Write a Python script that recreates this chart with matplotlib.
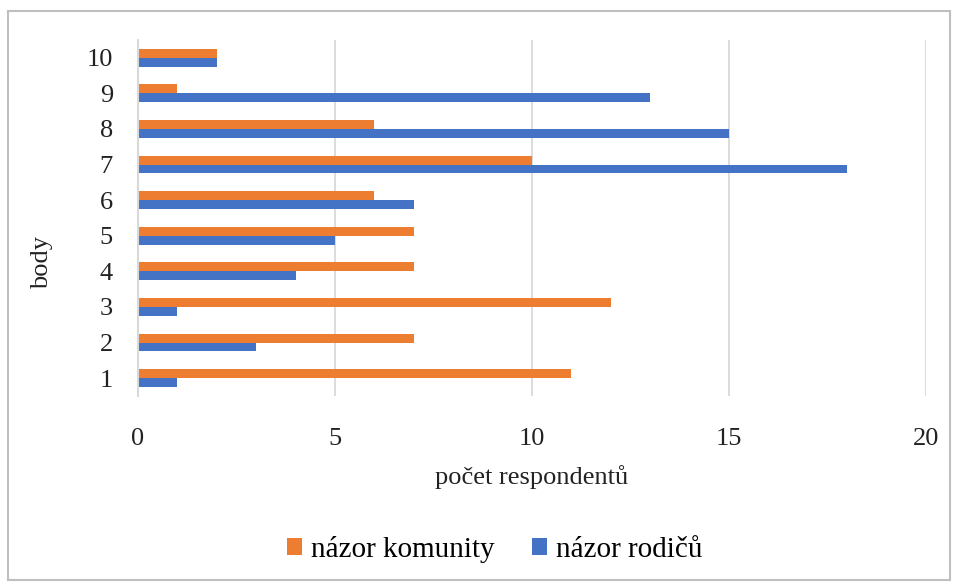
import matplotlib
matplotlib.use("Agg")
import matplotlib.pyplot as plt
import numpy as np
from matplotlib.patches import Rectangle

categories = ["1", "2", "3", "4", "5", "6", "7", "8", "9", "10"]
komunita = [11, 7, 12, 7, 7, 6, 10, 6, 1, 2]
rodice = [1, 3, 1, 4, 5, 7, 18, 15, 13, 2]
xticks = [0, 5, 10, 15, 20]

plt.rcParams['font.family'] = ['Liberation Serif', 'DejaVu Serif']

fig = plt.figure(figsize=(9.57, 5.83), dpi=100)
ax = fig.add_axes([0.1442, 0.3208, 0.8234, 0.6106])

y = np.arange(1, len(categories) + 1)
h = 0.25
orange = "#ED7D31"
blue = "#4472C4"
ax.barh(y + h / 2, komunita, height=h, color=orange, label="názor komunity", zorder=3)
ax.barh(y - h / 2, rodice, height=h, color=blue, label="názor rodičů", zorder=3)

ax.set_xlim(0, 20)
ax.set_ylim(0.5, 10.5)
ax.set_xticks(xticks)
ax.set_yticks(y)
ax.set_yticklabels(categories)
ax.tick_params(axis='both', length=0, labelsize=19, colors="#222222")
ax.tick_params(axis='x', pad=23)
ax.tick_params(axis='y', pad=18)
ax.grid(axis='x', color="#D9D9D9", linewidth=1.3, zorder=0)
for s in ["top", "right", "bottom"]:
    ax.spines[s].set_visible(False)
ax.spines["left"].set_color("#D9D9D9")
ax.spines["left"].set_linewidth(1.5)
ax.spines["left"].set_zorder(4)

ax.set_xlabel("počet respondentů", fontsize=19, color="#222222", labelpad=11)
ax.set_ylabel("body", fontsize=19, color="#222222")
ax.yaxis.set_label_coords(-0.108, 0.376)

leg = fig.legend(loc="center", bbox_to_anchor=(0.517, 0.058), ncol=2, frameon=False,
                 fontsize=21, handlelength=0.5, handleheight=0.5, handletextpad=0.3,
                 columnspacing=1.3)

fig.patches.append(Rectangle((8 / 957, 1 - 580 / 583), 942 / 957, 569 / 583,
                             transform=fig.transFigure, fill=False,
                             edgecolor="#BFBFBF", linewidth=1.5))

fig.savefig("out.png", dpi=100)
